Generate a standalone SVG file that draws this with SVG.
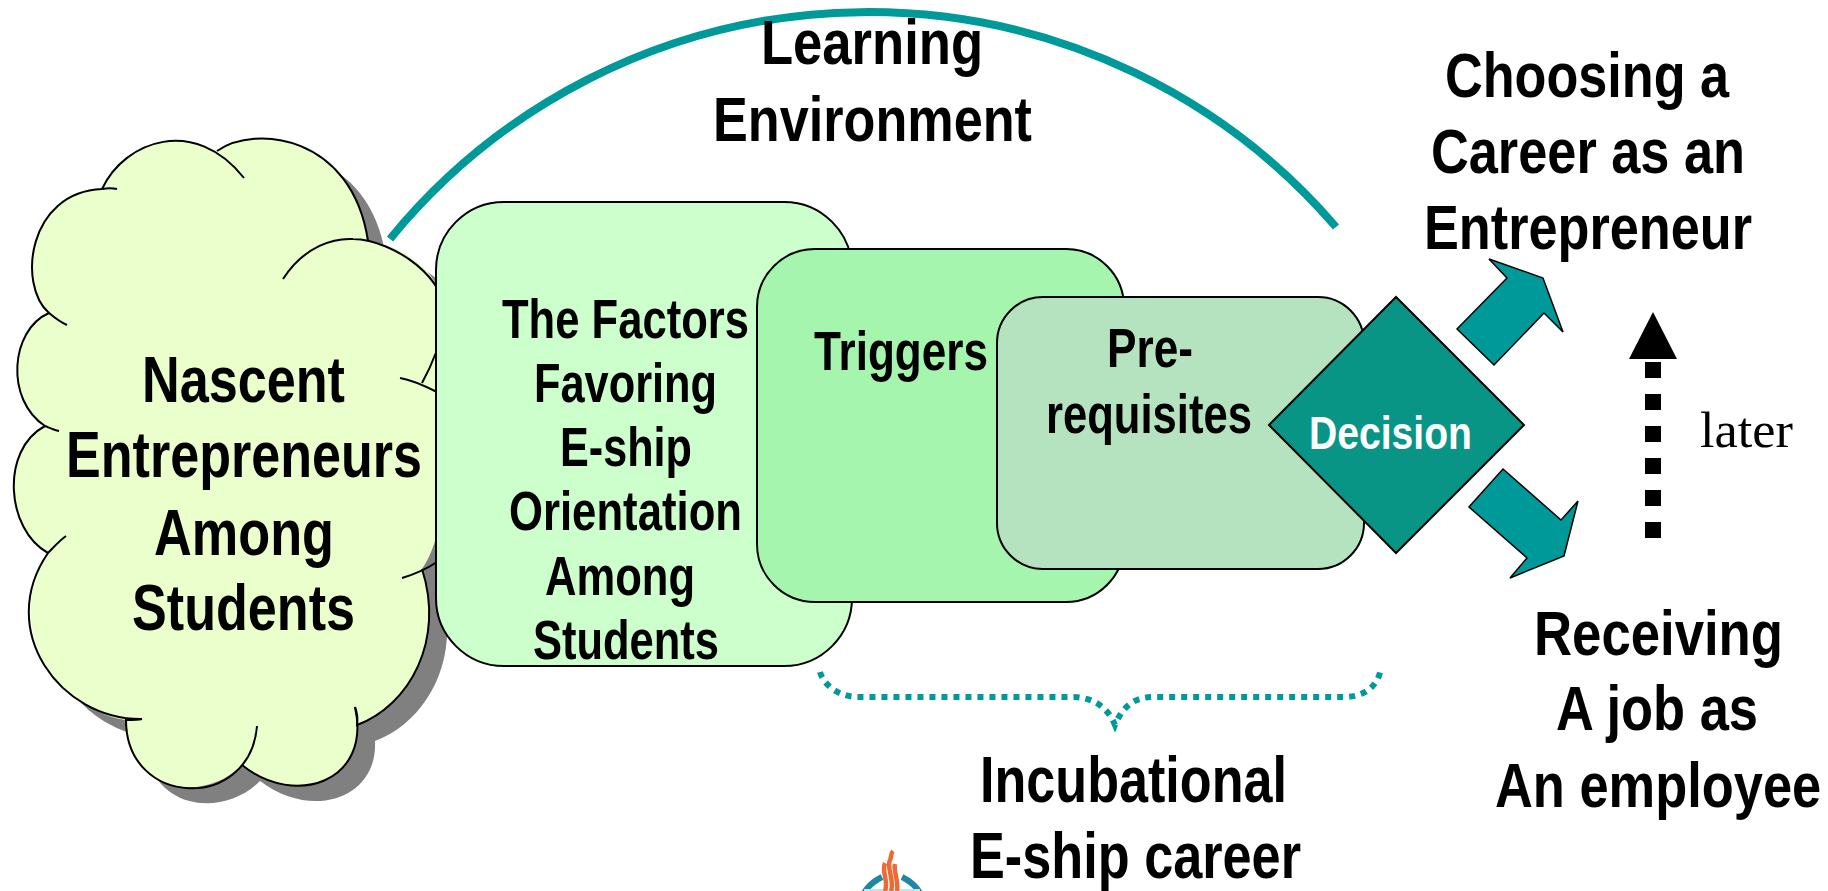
<svg xmlns="http://www.w3.org/2000/svg" width="1828" height="891" viewBox="0 0 1828 891">
<style>
.t{font-family:"Liberation Sans",Arial,sans-serif;font-weight:700;fill:#000}
.xl{font-size:64px}.l{font-size:63px}.m{font-size:55px}
.box{stroke:#000;stroke-width:2}
.arrow{fill:#009999;stroke:#000;stroke-width:1.5}
.lobe{fill:none;stroke:#000;stroke-width:2}
</style>
<defs>
<path id="cloudOutline" d="M102,189 C125,142 180,130 217,151 C255,124 352,135 368,241 C400,245 437,265 445,310 L445,380 C450,430 450,530 422,569 C445,640 410,705 357,725 C360,782 295,805 242,765 C205,803 128,795 126,720 C60,710 0,630 48,553 C6,530 0,450 45,426 C5,400 10,330 49,313 C17,285 28,192 102,189 Z"/>
</defs>
<g id="learning-arc" fill="none" stroke="#009999" stroke-width="8">
<path d="M390,239 A617,617 0 0 1 1336,227"/>
</g>
<g id="cloud">
<use href="#cloudOutline" x="18" y="16" fill="#808080"/>
<use href="#cloudOutline" fill="#EBFFCC"/>
<path class="lobe" d="M102,189 C125,140 195,116 244,178"/>
<path class="lobe" d="M217,151 C255,124 352,135 368,241"/>
<path class="lobe" d="M283,279 C305,245 335,238 353,239 C395,240 450,280 445,320 C442,340 432,365 422,383"/>
<path class="lobe" d="M400,378 C412,380 425,386 437,392"/>
<path class="lobe" d="M437,562 C425,570 412,575 402,578"/>
<path class="lobe" d="M422,569 C445,640 410,705 357,725 C358,718 357,712 355,707"/>
<path class="lobe" d="M355,707 C372,782 295,808 242,765"/>
<path class="lobe" d="M257,726 C250,812 126,808 126,720 C132,720 138,720 142,719"/>
<path class="lobe" d="M142,719 C60,720 -5,630 48,553 C53,548 60,540 66,536"/>
<path class="lobe" d="M48,553 C6,530 0,450 45,426 C50,428 54,430 59,431"/>
<path class="lobe" d="M45,426 C5,400 10,330 49,313 C55,318 60,322 67,325"/>
<path class="lobe" d="M49,313 C17,285 28,192 102,189 C108,188 112,188 117,189"/>
<text class="t xl" x="142" y="402" textLength="203" lengthAdjust="spacingAndGlyphs">Nascent</text>
<text class="t xl" x="66" y="477" textLength="356" lengthAdjust="spacingAndGlyphs">Entrepreneurs</text>
<text class="t xl" x="154" y="555" textLength="180" lengthAdjust="spacingAndGlyphs">Among</text>
<text class="t xl" x="132" y="630" textLength="223" lengthAdjust="spacingAndGlyphs">Students</text>
</g>
<g id="factors">
<rect class="box" x="436" y="202" width="416" height="464" rx="68" fill="#CCFFCC"/>
<text class="t m" x="502" y="338" textLength="247" lengthAdjust="spacingAndGlyphs">The Factors</text>
<text class="t m" x="534" y="402" textLength="183" lengthAdjust="spacingAndGlyphs">Favoring</text>
<text class="t m" x="560" y="466" textLength="132" lengthAdjust="spacingAndGlyphs">E-ship</text>
<text class="t m" x="509" y="530" textLength="233" lengthAdjust="spacingAndGlyphs">Orientation</text>
<text class="t m" x="545" y="595" textLength="150" lengthAdjust="spacingAndGlyphs">Among</text>
<text class="t m" x="533" y="659" textLength="186" lengthAdjust="spacingAndGlyphs">Students</text>
</g>
<g id="triggers">
<rect class="box" x="757" y="249" width="367" height="353" rx="58" fill="#A6F5AE"/>
<text class="t m" x="814" y="370" textLength="174" lengthAdjust="spacingAndGlyphs">Triggers</text>
</g>
<g id="prerequisites">
<rect class="box" x="997" y="297" width="367" height="272" rx="46" fill="#B5E3BF"/>
<text class="t m" x="1107" y="367" textLength="86" lengthAdjust="spacingAndGlyphs">Pre-</text>
<text class="t m" x="1046" y="433" textLength="206" lengthAdjust="spacingAndGlyphs">requisites</text>
</g>
<g id="decision">
<polygon points="1396,297 1524,425 1396,553 1269,425" fill="#099585" stroke="#000" stroke-width="2"/>
<text class="t" x="1309" y="449" font-size="47" style="fill:#fff" textLength="163" lengthAdjust="spacingAndGlyphs">Decision</text>
</g>
<g id="connectors">
<polygon class="arrow" points="1457,329 1507,278 1489,259 1543,278 1563,332 1544,313 1494,365"/>
<polygon class="arrow" points="1503,469 1561,520 1578,501 1564,556 1510,578 1527,558 1469,507"/>
<path d="M1653,538 V362" fill="none" stroke="#000" stroke-width="16" stroke-dasharray="16 16"/>
<polygon points="1653,312 1677,359 1629,359" fill="#000"/>
<path d="M820,672 C824,686 840,697 858,697 L1074,697 C1095,698 1108,708 1115,725 C1122,708 1133,697 1153,697 L1345,697 C1362,697 1378,688 1381,668" fill="none" stroke="#009999" stroke-width="6" stroke-dasharray="6 6"/>
</g>
<g id="labels">
<text class="t l" x="761" y="64" textLength="222" lengthAdjust="spacingAndGlyphs">Learning</text>
<text class="t l" x="713" y="141" textLength="319" lengthAdjust="spacingAndGlyphs">Environment</text>
<text class="t l" x="1445" y="97" textLength="284" lengthAdjust="spacingAndGlyphs">Choosing a</text>
<text class="t l" x="1431" y="173" textLength="314" lengthAdjust="spacingAndGlyphs">Career as an</text>
<text class="t l" x="1424" y="249" textLength="328" lengthAdjust="spacingAndGlyphs">Entrepreneur</text>
<text class="t l" x="1534" y="655" textLength="249" lengthAdjust="spacingAndGlyphs">Receiving</text>
<text class="t l" x="1556" y="730" textLength="202" lengthAdjust="spacingAndGlyphs">A job as</text>
<text class="t l" transform="translate(1495,807) scale(.832,1)">An employee</text>
<text class="t" font-size="65" x="980" y="802" textLength="307" lengthAdjust="spacingAndGlyphs">Incubational</text>
<text class="t" font-size="65" x="970" y="878" textLength="331" lengthAdjust="spacingAndGlyphs">E-ship career</text>
<text x="1700" y="447" font-family="Liberation Serif, Times New Roman, serif" font-size="50" fill="#000" textLength="93" lengthAdjust="spacingAndGlyphs">later</text>
</g>
<g id="logo">
<path d="M864,893 C868,886 874,881 882,877 M920,893 C916,886 910,881 902,877" fill="none" stroke="#1D87A6" stroke-width="6"/>
<rect x="864" y="889" width="56" height="2" fill="#BFE6EE"/>
<path d="M885,891 C889,880 881,872 885,863 M891,891 C895,880 886,868 890,860 C892,857 890,854 893,851 M897,891 C899,880 893,872 895,864" fill="none" stroke="#EE6A35" stroke-width="4.5"/>
</g>
</svg>
